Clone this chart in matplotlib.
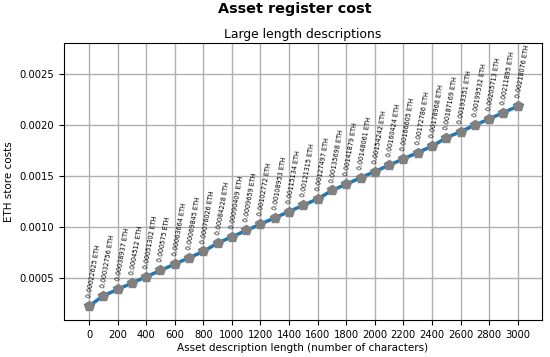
import numpy as np
import matplotlib.pyplot as plt

# データ
lengths = list(range(0, 3100, 100))
costs = [0.00022625, 0.00032756, 0.00038937, 0.0004512, 0.00051302, 0.000575,
         0.00063664, 0.00069845, 0.00076026, 0.00084228, 0.00090409, 0.0009659,
         0.00102772, 0.00108953, 0.00115134, 0.00121315, 0.00127497, 0.00135698,
         0.00141879, 0.00148061, 0.00154242, 0.00160424, 0.00166605, 0.00172786,
         0.00178968, 0.00187169, 0.00193351, 0.00199532, 0.00205713, 0.00211895,
         0.00218076]

fig = plt.figure(figsize=(5.5, 3.57), dpi=100)
ax = fig.add_axes([0.1164, 0.1036, 0.869, 0.776])

ax.plot(lengths, costs, color='#1f77b4', linewidth=2.5, zorder=2)
ax.plot(lengths, costs, 'p', color='grey', markersize=7, zorder=3)

for x, y in zip(lengths, costs):
    ax.annotate(str(y) + " ETH", (x, y), xytext=(0, 6), textcoords='offset points',
                rotation=80, fontsize=4.7, ha='left', va='center',
                rotation_mode='anchor')

ax.set_xlim(-175, 3170)
ax.set_ylim(0.00009, 0.0028)
ax.set_xticks(range(0, 3100, 200))
ax.set_yticks([0.0005, 0.0010, 0.0015, 0.0020, 0.0025])
ax.tick_params(labelsize=7.2)
ax.grid(True, linewidth=1.0, color='#b0b0b0')

fig.suptitle("Asset register cost", fontsize=10.4, fontweight='bold', x=0.536, y=0.995)
ax.set_title("Large length descriptions", fontsize=8.9, pad=3.5)
ax.set_xlabel("Asset description length (number of characters)", fontsize=7.5, labelpad=2.5)
ax.set_ylabel("ETH store costs", fontsize=7.5)

plt.savefig("out.png")
